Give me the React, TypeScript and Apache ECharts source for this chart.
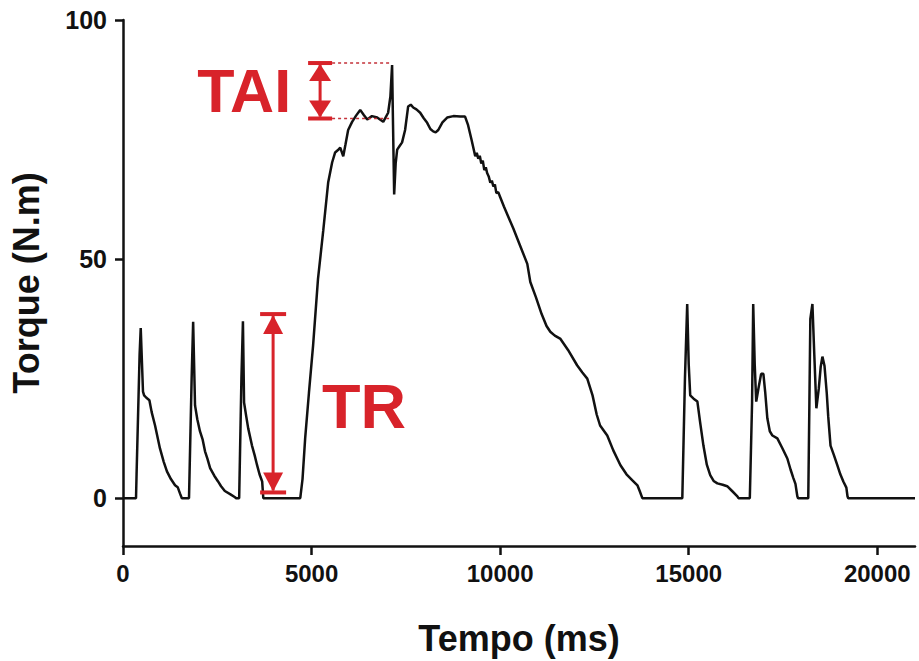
import React, { useEffect, useRef } from "react";
import * as echarts from "echarts";

// Torque trace (time in ms, torque in N.m)
const timeMs: number[] = [
  0, 345, 360, 440, 470, 530, 560, 620, 700, 760, 850, 980, 1080, 1165, 1270, 1380, 1450, 1510, 1560,
  1750, 1820, 1860, 1910, 1970, 2040, 2110, 2175, 2240, 2310, 2420, 2520, 2600, 2700, 2850, 2970, 3000,
  3080, 3140, 3180, 3210, 3270, 3320, 3420, 3490, 3555, 3620, 3690, 3720,
  4700, 4760, 4830, 4930, 5040, 5170, 5310, 5440, 5545, 5625, 5700, 5760, 5840, 5900, 5970, 6075, 6180,
  6290, 6380, 6475, 6600, 6740, 6900, 7030, 7090, 7135, 7160, 7190, 7230, 7270, 7330, 7400, 7480, 7560,
  7630, 7695, 7780, 7880, 7970, 8065, 8150, 8225, 8290, 8360, 8470, 8595, 8760, 8940, 9070, 9150, 9240,
  9340, 9380, 9420, 9460, 9500, 9540, 9580, 9620, 9655, 9700, 9740, 9780, 9820, 9860, 9900, 9950, 10000,
  10100, 10230, 10350, 10530, 10720, 10800, 10950, 11100, 11230, 11330, 11450, 11600, 11800, 12040,
  12180, 12310, 12450, 12560, 12650, 12840, 13000, 13190, 13350, 13500, 13640, 13700, 13770,
  14830, 14900, 14960, 15000, 15040, 15130, 15230, 15300, 15390, 15480, 15570, 15660, 15760, 15900,
  16020, 16150, 16290, 16320,
  16620, 16680, 16710, 16750, 16790, 16850, 16920, 16980, 17030, 17085, 17150, 17220, 17350, 17480,
  17615, 17700, 17775, 17830, 17880, 17900,
  18170, 18200, 18225, 18280, 18330, 18385, 18450, 18500, 18545, 18600, 18660, 18700, 18760, 18850,
  18940, 19020, 19100, 19180, 19210, 19230, 21000,
];

const torqueNm: number[] = [
  0, 0, 5, 30, 35.6, 22.3, 21.5, 21, 20.5, 18, 15.2, 10.4, 7.6, 5.6, 4, 2.7, 2.3, 1, 0,
  0, 25, 36.9, 19.4, 16.5, 14, 12.3, 9.8, 8.2, 6.3, 4.7, 3.5, 2.5, 1.5, 0.8, 0.2, 0,
  0, 25, 37, 20, 17, 14.6, 11, 9, 6.9, 5, 3.5, 0,
  0, 4, 12.5, 22, 31.9, 45.8, 56, 66, 70.2, 72.3, 72.8, 73.3, 71.5, 74, 77, 78.7, 80,
  81.2, 80.2, 79.2, 79.9, 79.6, 78.7, 80.6, 84, 90.6, 78, 63.5, 70, 72.9, 73.6, 74.4, 77, 81.9,
  82.3, 81.7, 81.3, 80.6, 79.5, 78.5, 77.2, 76.7, 76.5, 77, 78.6, 79.6, 79.9, 79.8, 79.8, 78, 75,
  71.5, 72.2, 71, 71.6, 70, 70.6, 68.6, 69.2, 68, 67.2, 66, 66.4, 65.2, 65.6, 63.8, 64, 63,
  61, 58.6, 56.4, 52.8, 49, 45.2, 42, 38.5, 36, 34.8, 34, 33.3, 31, 27.8,
  26.3, 25, 21.5, 17.5, 15.2, 13.1, 10, 6.9, 5, 3.8, 2.7, 1.5, 0,
  0, 25, 40.6, 28, 21.5, 20.8, 20.2, 16, 11, 7, 4.8, 3.6, 3.1, 2.8,
  2.5, 1.5, 0.4, 0,
  0, 20, 40.6, 28, 20.2, 23, 26, 26, 22, 16.7, 14, 13.1, 12.5, 10.5,
  8.3, 6, 4.2, 3, 0.4, 0,
  0, 20, 37.5, 40.6, 30, 18.8, 23, 27.5, 29.6, 27.7, 22, 17, 11, 9,
  6.9, 5, 3.5, 2.2, 0.4, 0, 0,
];

const xTicks: number[] = [0, 5000, 10000, 15000, 20000];
const yTicks: number[] = [0, 50, 100];

// Annotation anchors in data space
const trArrow = { x: 3980, yTop: 38.5, yBottom: 1.2 };
const taiArrow = { x: 5226, yTop: 91, yBottom: 79.4, dotEnd: 7110 };

const RED = "#d8232a";
const FONT = "'Liberation Sans', Arial, Helvetica, sans-serif";

export default function App() {
  const ref = useRef<HTMLDivElement>(null);

  useEffect(() => {
    document.body.style.margin = "0";
    if (!ref.current) return;
    const chart = echarts.init(ref.current, undefined, { renderer: "svg" });
    const data = timeMs.map((t, i) => [t, torqueNm[i]]);

    chart.setOption({
      animation: false,
      backgroundColor: "#ffffff",
      grid: { left: 123, right: 4, top: 20, bottom: 113, containLabel: false },
      xAxis: {
        type: "value",
        min: 0,
        max: 21000,
        name: "Tempo (ms)",
        nameLocation: "middle",
        nameGap: 74,
        nameTextStyle: { fontFamily: FONT, fontSize: 36, fontWeight: "bold", color: "#111" },
        axisLine: { show: true, onZero: false, lineStyle: { color: "#111", width: 2.5 } },
        axisTick: { show: true, length: 9, lineStyle: { color: "#111", width: 2.5 }, customValues: xTicks },
        axisLabel: {
          customValues: xTicks,
          formatter: (v: number) => String(v),
          fontFamily: FONT,
          fontSize: 24,
          fontWeight: "bold",
          color: "#111",
          margin: 15,
        },
        splitLine: { show: false },
      },
      yAxis: {
        type: "value",
        min: -10,
        max: 100,
        name: "Torque (N.m)",
        nameLocation: "middle",
        nameRotate: 90,
        nameGap: 79,
        nameTextStyle: { fontFamily: FONT, fontSize: 36, fontWeight: "bold", color: "#111" },
        axisLine: { show: true, onZero: false, lineStyle: { color: "#111", width: 2.5 } },
        axisTick: { show: true, length: 8, lineStyle: { color: "#111", width: 2.5 }, customValues: yTicks },
        axisLabel: {
          customValues: yTicks,
          formatter: (v: number) => String(v),
          fontFamily: FONT,
          fontSize: 25,
          fontWeight: "bold",
          color: "#111",
          margin: 16,
        },
        splitLine: { show: false },
      },
      series: [
        {
          type: "line",
          data,
          showSymbol: false,
          symbol: "none",
          lineStyle: { color: "#111", width: 2.5 },
          z: 5,
        },
      ],
    });

    const px = (x: number, y: number) =>
      chart.convertToPixel({ xAxisIndex: 0, yAxisIndex: 0 }, [x, y]) as number[];

    const arrow = (
      x: number,
      yTopV: number,
      yBotV: number,
      capHalf: number,
      headHalf: number,
      headLen: number
    ) => {
      const [ax, top] = px(x, yTopV);
      const [, bot] = px(x, yBotV);
      return [
        { type: "line", shape: { x1: ax, y1: top + 2, x2: ax, y2: bot - 2 }, style: { stroke: RED, lineWidth: 3 }, z: 10 },
        { type: "line", shape: { x1: ax - capHalf, y1: top, x2: ax + capHalf, y2: top }, style: { stroke: RED, lineWidth: 4 }, z: 10 },
        { type: "line", shape: { x1: ax - capHalf, y1: bot, x2: ax + capHalf, y2: bot }, style: { stroke: RED, lineWidth: 4 }, z: 10 },
        {
          type: "polygon",
          shape: { points: [[ax, top + 1], [ax - headHalf, top + 1 + headLen], [ax + headHalf, top + 1 + headLen]] },
          style: { fill: RED },
          z: 10,
        },
        {
          type: "polygon",
          shape: { points: [[ax, bot - 1], [ax - headHalf, bot - 1 - headLen], [ax + headHalf, bot - 1 - headLen]] },
          style: { fill: RED },
          z: 10,
        },
      ];
    };

    const [trX] = px(trArrow.x, trArrow.yTop);
    const [taiX, taiTop] = px(taiArrow.x, taiArrow.yTop);
    const [, taiBot] = px(taiArrow.x, taiArrow.yBottom);
    const [dotX] = px(taiArrow.dotEnd, 0);

    const graphics: any[] = [
      ...arrow(trArrow.x, trArrow.yTop, trArrow.yBottom, 13, 10, 19),
      ...arrow(taiArrow.x, taiArrow.yTop, taiArrow.yBottom, 12, 11, 17),
      {
        type: "line",
        shape: { x1: taiX + 12, y1: taiTop, x2: dotX, y2: taiTop },
        style: { stroke: "#c4323a", lineWidth: 1.5, lineDash: [3, 3] },
        z: 9,
      },
      {
        type: "line",
        shape: { x1: taiX + 12, y1: taiBot, x2: dotX, y2: taiBot },
        style: { stroke: "#c4323a", lineWidth: 1.5, lineDash: [3, 3] },
        z: 9,
      },
      {
        type: "text",
        x: taiX - 29,
        y: (taiTop + taiBot) / 2,
        style: {
          text: "TAI",
          fill: RED,
          font: `bold 61px ${FONT}`,
          align: "right",
          verticalAlign: "middle",
        },
        z: 10,
      },
      {
        type: "text",
        x: trX + 49,
        y: 406,
        style: {
          text: "TR",
          fill: RED,
          font: `bold 63px ${FONT}`,
          align: "left",
          verticalAlign: "middle",
        },
        z: 10,
      },
    ];

    chart.setOption({ graphic: graphics });

    return () => {
      chart.dispose();
    };
  }, []);

  return (
    <div
      ref={ref}
      style={{ position: "fixed", left: 0, top: 0, width: 919, height: 661, background: "#fff" }}
    />
  );
}
